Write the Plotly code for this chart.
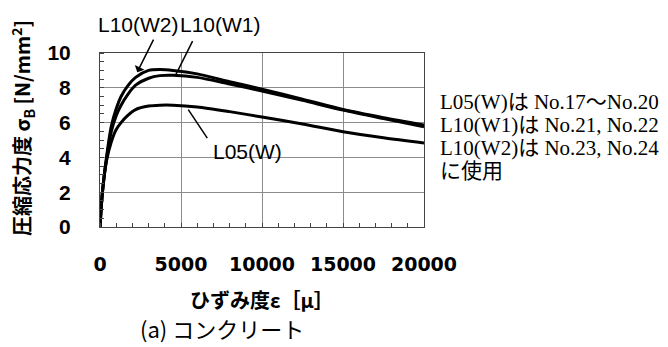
import plotly.graph_objects as go

# strain [micro] and compressive stress [N/mm2] for the three concrete mixes
strain = [0, 150, 400, 700, 1000, 1300, 1700, 2200, 3000, 3700, 4500,
          6000, 8000, 10000, 12500, 15000, 17500, 20000]
l10_w2 = [0, 2.0, 4.0, 5.8, 6.8, 7.5, 8.1, 8.6, 9.0, 9.05, 9.0,
          8.8, 8.35, 7.92, 7.35, 6.75, 6.28, 5.86]
l10_w1 = [0, 2.0, 3.9, 5.5, 6.4, 7.0, 7.6, 8.15, 8.55, 8.7, 8.72,
          8.6, 8.22, 7.82, 7.28, 6.72, 6.23, 5.76]
l05_w = [0, 2.0, 3.8, 4.9, 5.6, 6.0, 6.4, 6.75, 6.95, 7.0, 7.0,
         6.9, 6.63, 6.32, 5.92, 5.48, 5.13, 4.83]

x_ticks = [0, 5000, 10000, 15000, 20000]
y_ticks = [0, 2, 4, 6, 8, 10]

note_lines = ["L05(W)は No.17～No.20",
              "L10(W1)は No.21, No.22",
              "L10(W2)は No.23, No.24",
              "に使用"]

fig = go.Figure()
for ys in (l10_w2, l10_w1, l05_w):
    fig.add_trace(go.Scatter(x=strain, y=ys, mode="lines",
                             line=dict(color="black", width=3, shape="spline",
                                       smoothing=0.8),
                             showlegend=False, hoverinfo="skip"))

W, H = 668, 347
L, R, T, B = 100, 244, 53, 120

def px_x(p):
    return (p - L) / (W - L - R)

def px_y(p):
    return 1 - (p - T) / (H - T - B)

sans = "Liberation Sans, Arial, Noto Sans CJK JP"
serif = "Liberation Serif, Times New Roman, Noto Sans CJK JP"


def label(text, x, y, font, xanchor="center", **kw):
    return dict(text=text, x=px_x(x), y=px_y(y), xref="paper", yref="paper",
                xanchor=xanchor, yanchor="middle", showarrow=False, font=font, **kw)


series_font = dict(family=sans, size=21, color="black")
jp_bold = dict(family="Noto Sans CJK JP", size=20, color="black", weight="bold")

annotations = [
    # series labels
    label("L10(W2)", 138, 25, series_font),
    label("L10(W1)", 220, 25, series_font),
    label("L05(W)", 247, 151, series_font),
    # leader lines
    dict(text="", x=2300, y=8.9, xref="x", yref="y", ax=17, ay=-34,
         showarrow=True, arrowhead=1, arrowsize=1.2, arrowwidth=1.5,
         arrowcolor="black"),
    dict(text="", x=4650, y=8.7, xref="x", yref="y", ax=18, ay=-36,
         showarrow=True, arrowhead=0, arrowwidth=1.5, arrowcolor="black"),
    dict(text="", x=5450, y=6.75, xref="x", yref="y", ax=20, ay=30,
         showarrow=True, arrowhead=0, arrowwidth=1.5, arrowcolor="black"),
    # axis titles and caption
    label("圧縮応力度 σ<sub>B</sub> [N/mm<sup>2</sup>]", 22, 128, jp_bold,
          textangle=-90),
    label("ひずみ度ε［μ］", 262, 299, jp_bold),
    label("(a) コンクリート", 222, 328,
          dict(family="Noto Sans CJK JP", size=22, color="black")),
]
for i, line in enumerate(note_lines):
    annotations.append(label(line, 438, 102 + 23 * i,
                             dict(family=serif, size=21, color="black"),
                             xanchor="left"))

fig.update_layout(
    width=W, height=H,
    margin=dict(l=L, r=R, t=T, b=B),
    paper_bgcolor="white", plot_bgcolor="white",
    annotations=annotations,
    xaxis=dict(range=[0, 20000], tickvals=x_ticks, ticktext=[str(v) for v in x_ticks],
               showgrid=True, gridcolor="#8c8c8c", gridwidth=1,
               showline=True, linecolor="#444", linewidth=1, mirror=True,
               ticks="", zeroline=False, ticklabelstandoff=20,
               minor=dict(dtick=1000, ticks="inside", ticklen=4,
                          tickcolor="#444", showgrid=False),
               tickfont=dict(family="DejaVu Sans", size=19, color="black",
                             weight="bold")),
    yaxis=dict(range=[0, 10], tickvals=y_ticks, ticktext=[str(v) for v in y_ticks],
               showgrid=True, gridcolor="#8c8c8c", gridwidth=1,
               showline=True, linecolor="#444", linewidth=1, mirror=True,
               ticks="", zeroline=False, ticklabelstandoff=24,
               minor=dict(dtick=0.5, ticks="inside", ticklen=4,
                          tickcolor="#444", showgrid=False),
               tickfont=dict(family="Liberation Sans", size=21, color="black",
                             weight="bold")),
)

fig.write_html("out.html")
